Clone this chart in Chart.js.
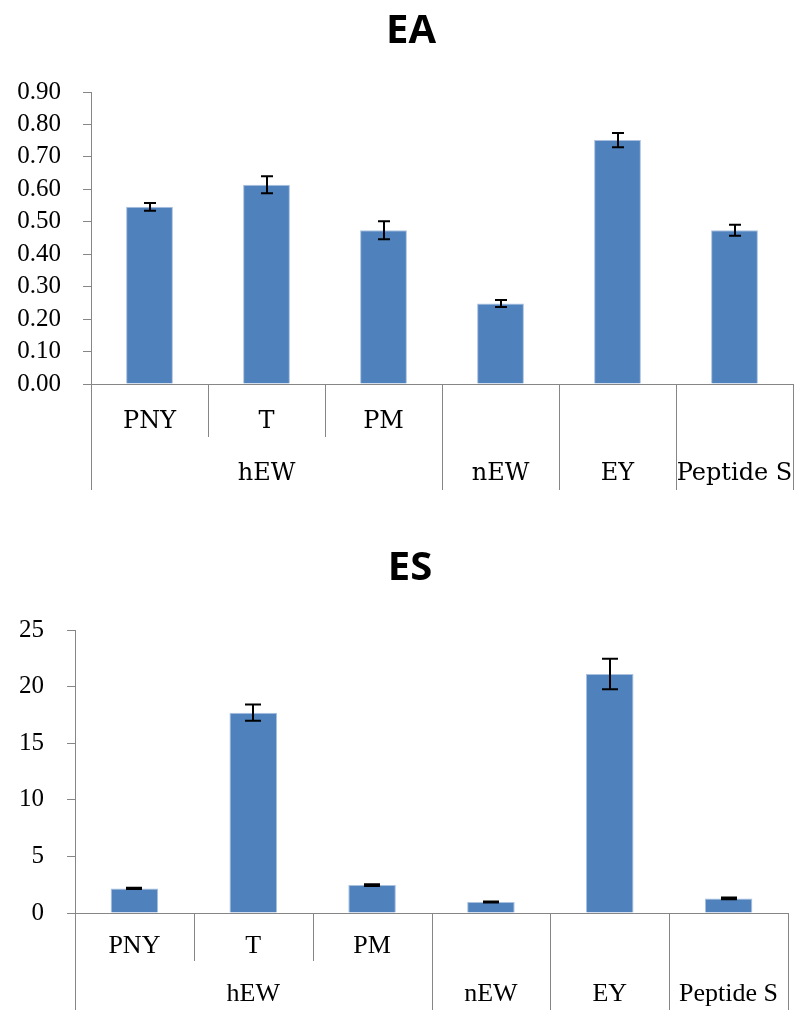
<!DOCTYPE html>
<html>
<head>
<meta charset="utf-8">
<script src="https://cdn.jsdelivr.net/npm/chart.js@4/dist/chart.umd.min.js"></script>
<style>
  html, body { margin: 0; padding: 0; background: #fff; }
  .panel { position: relative; width: 796px; height: 505px; }
  canvas { display: block; }
</style>
</head>
<body>
<div class="panel"><canvas id="ea" width="796" height="505"></canvas></div>
<div class="panel"><canvas id="es" width="796" height="505"></canvas></div>
<script>
// Sample labels: lower row (sub-type) and upper row (source group)
const subLabels = ['PNY', 'T', 'PM', '', '', ''];
const groupLabels = ['hEW', 'nEW', 'EY', 'Peptide S'];
const groupSizes = [3, 1, 1, 1];

// Emulsifying activity (EA) means and error
const eaValues = [0.546, 0.614, 0.474, 0.248, 0.752, 0.474];
const eaErrors = [0.012, 0.026, 0.028, 0.011, 0.022, 0.017];

// Emulsion stability (ES) means and error
const esValues = [2.17, 17.70, 2.47, 0.97, 21.12, 1.29];
const esErrors = [0.05, 0.72, 0.08, 0.05, 1.35, 0.07];

// Value axis ranges
const eaAxis = { min: 0, max: 0.9, step: 0.1, decimals: 2 };
const esAxis = { min: 0, max: 25, step: 5, decimals: 0 };

const AXIS_GREY = '#868686';
const BAR_BLUE = '#4F81BD';

// one category per bar, named "group / sub" where there is a sub label
const categoryNames = [];
(function () {
  let k = 0;
  groupSizes.forEach((size, g) => {
    for (let j = 0; j < size; j++, k++) {
      categoryNames.push(subLabels[k] ? groupLabels[g] + ' / ' + subLabels[k] : groupLabels[g]);
    }
  });
})();

// heading placed at a fixed point above the plot
const headingPlugin = {
  id: 'heading',
  afterDraw(chart, args, opts) {
    const ctx = chart.ctx;
    ctx.save();
    ctx.fillStyle = '#000';
    ctx.font = 'bold 40px "Open Sans", sans-serif';
    ctx.textAlign = 'center';
    ctx.textBaseline = 'middle';
    ctx.fillText(opts.text, opts.x, opts.y);
    ctx.restore();
  }
};

// vertical error bars with caps
const errorBarPlugin = {
  id: 'errorBars',
  afterDatasetsDraw(chart, args, opts) {
    const ctx = chart.ctx;
    const ys = chart.scales.y;
    const meta = chart.getDatasetMeta(0);
    const vals = chart.data.datasets[0].data;
    ctx.save();
    ctx.strokeStyle = '#000';
    ctx.lineWidth = opts.lineWidth;
    meta.data.forEach((bar, i) => {
      const v = vals[i], e = opts.errors[i];
      const x = Math.round(bar.x);
      const yt = ys.getPixelForValue(v + e);
      const yb = ys.getPixelForValue(v - e);
      ctx.beginPath();
      ctx.moveTo(x, yt); ctx.lineTo(x, yb);
      ctx.moveTo(x - opts.cap, yt); ctx.lineTo(x + opts.cap, yt);
      ctx.moveTo(x - opts.cap, yb); ctx.lineTo(x + opts.cap, yb);
      ctx.stroke();
    });
    ctx.restore();
  }
};

// two-row category axis: sub labels and group labels with divider lines
const groupedAxisPlugin = {
  id: 'groupedAxis',
  afterDraw(chart, args, opts) {
    const ctx = chart.ctx;
    const xs = chart.scales.x;
    const n = chart.data.labels.length;
    const half = (xs.getPixelForValue(1) - xs.getPixelForValue(0)) / 2;
    const edge = i => (i < n ? xs.getPixelForValue(i) - half : xs.getPixelForValue(n - 1) + half);
    const y0 = xs.top;
    ctx.save();
    ctx.strokeStyle = AXIS_GREY;
    ctx.lineWidth = 1;
    let start = 0;
    const groupEdges = [0];
    groupSizes.forEach(size => { start += size; groupEdges.push(start); });
    ctx.beginPath();
    groupEdges.forEach(i => {
      const x = Math.round(edge(i)) + 0.5;
      ctx.moveTo(x, y0); ctx.lineTo(x, y0 + opts.groupLine);
    });
    groupEdges.slice(0, -1).forEach((g, gi) => {
      for (let i = g + 1; i < groupEdges[gi + 1]; i++) {
        const x = Math.round(edge(i)) + 0.5;
        ctx.moveTo(x, y0); ctx.lineTo(x, y0 + opts.subLine);
      }
    });
    ctx.stroke();
    ctx.fillStyle = '#000';
    ctx.textAlign = 'center';
    ctx.textBaseline = 'middle';
    ctx.font = opts.font;
    subLabels.forEach((lab, i) => {
      if (lab) ctx.fillText(lab, xs.getPixelForValue(i), y0 + opts.subY);
    });
    groupLabels.forEach((lab, g) => {
      const cx = (edge(groupEdges[g]) + edge(groupEdges[g + 1])) / 2;
      ctx.fillText(lab, cx, y0 + opts.groupY);
    });
    ctx.restore();
  }
};

function makeChart(id, cfg) {
  return new Chart(document.getElementById(id), {
    type: 'bar',
    data: {
      labels: categoryNames,
      datasets: [{
        data: cfg.values,
        backgroundColor: BAR_BLUE,
        borderColor: '#A9C1DF',
        borderWidth: 1,
        barPercentage: 0.4,
        categoryPercentage: 1.0
      }]
    },
    options: {
      responsive: false,
      animation: false,
      layout: { padding: cfg.padding },
      plugins: {
        legend: { display: false },
        tooltip: { enabled: false },
        title: { display: false },
        heading: cfg.heading,
        errorBars: { errors: cfg.errors, cap: cfg.cap, lineWidth: 2 },
        groupedAxis: cfg.axisText
      },
      scales: {
        x: {
          type: 'category',
          offset: true,
          grid: { display: false },
          border: { display: true, color: AXIS_GREY, width: 1 },
          ticks: { display: false },
          afterFit(scale) { scale.height = cfg.xHeight; }
        },
        y: {
          min: cfg.axis.min,
          max: cfg.axis.max,
          grid: { display: true, drawOnChartArea: false, drawTicks: true, tickLength: 8, color: AXIS_GREY, lineWidth: 1 },
          border: { display: true, color: AXIS_GREY, width: 1 },
          ticks: {
            stepSize: cfg.axis.step,
            autoSkip: false,
            padding: cfg.tickPad,
            color: '#000',
            font: { family: '"Liberation Serif", "Times New Roman", serif', size: 25 },
            callback: v => Number(v).toFixed(cfg.axis.decimals)
          },
          afterFit(scale) { scale.width = cfg.yWidth; }
        }
      }
    },
    plugins: [headingPlugin, errorBarPlugin, groupedAxisPlugin]
  });
}

makeChart('ea', {
  heading: { text: 'EA', x: 411, y: 32 },
  values: eaValues,
  errors: eaErrors,
  axis: eaAxis,
  cap: 6,
  padding: { left: 0, right: 3, top: 92, bottom: 15 },
  xHeight: 106,
  yWidth: 91,
  tickPad: 22,
  axisText: { font: '24px "DejaVu Serif", serif', subY: 38, groupY: 90, subLine: 53, groupLine: 106 }
});

makeChart('es', {
  heading: { text: 'ES', x: 410, y: 64 },
  values: esValues,
  errors: esErrors,
  axis: esAxis,
  cap: 8,
  padding: { left: 0, right: 8, top: 125, bottom: 0 },
  xHeight: 97,
  yWidth: 75,
  tickPad: 23,
  axisText: { font: '26px "Liberation Serif", "Times New Roman", serif', subY: 33, groupY: 81, subLine: 48, groupLine: 97 }
});
</script>
</body>
</html>
